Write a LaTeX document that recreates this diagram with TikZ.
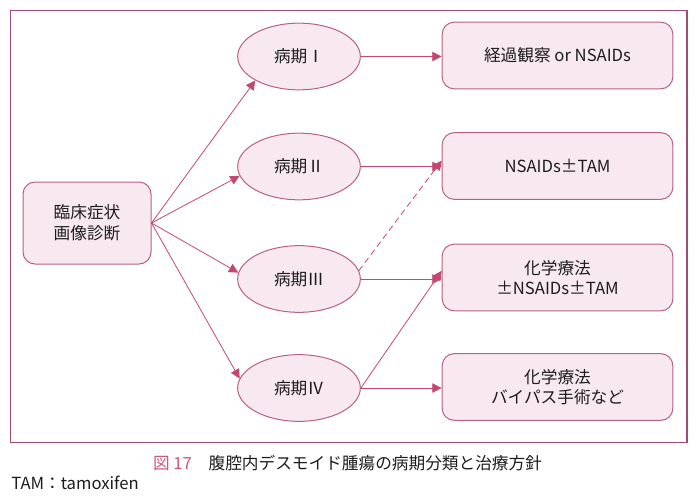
\documentclass[tikz,border=0pt]{standalone}
\usepackage{fontspec}
\setmainfont{Noto Sans CJK JP}
\usepackage{xcolor}
\usepackage{tikz}
\usetikzlibrary{arrows.meta,shapes.geometric}

\definecolor{framecol}{RGB}{160,75,120}
\definecolor{nodeline}{RGB}{185,95,135}
\definecolor{nodefill}{RGB}{248,233,240}
\definecolor{arrowcol}{RGB}{195,70,115}
\definecolor{textcol}{RGB}{28,28,28}
\definecolor{capcol}{RGB}{205,85,130}

\tikzset{
  stage/.style={ellipse,draw=nodeline,fill=nodefill,line width=0.75pt,minimum width=92pt,minimum height=50pt,inner sep=0pt,text=textcol,font=\fontsize{12.5}{15.5}\selectfont},
  therapy/.style={rectangle,rounded corners=9pt,draw=nodeline,fill=nodefill,line width=0.75pt,minimum width=173pt,minimum height=50pt,inner sep=0pt,align=center,text=textcol,font=\fontsize{12.5}{15.5}\selectfont},
  link/.style={draw=arrowcol,line width=0.6pt,-{Triangle[length=7pt,width=7pt]}},
}

\begin{document}
\begin{tikzpicture}[x=0.75pt,y=0.75pt,yscale=-1,xscale=1]
\path[use as bounding box] (0,0) rectangle (696,500);

%Frame
\draw [color=framecol,line width=0.9pt] (10.5,10.5) rectangle (687,442.5) ;

%Rounded Rect: diagnosis
\node [therapy,minimum width=96pt,minimum height=61.5pt] (diag) at (87,223) {臨床症状\\画像診断};

%Shape: Ellipse (stages)
\node [stage] (st1) at (299,56.5) {病期Ⅰ};
\node [stage] (st2) at (299,166.5) {病期Ⅱ};
\node [stage] (st3) at (299,279) {病期Ⅲ};
\node [stage] (st4) at (299,388) {病期Ⅳ};

%Rounded Rect: treatment
\node [therapy] (res1) at (557.5,55.5) {経過観察 or NSAIDs};
\node [therapy] (res2) at (557.5,166) {NSAIDs±TAM};
\node [therapy] (res3) at (557.5,277.5) {化学療法\\±NSAIDs±TAM};
\node [therapy] (res4) at (557.5,387) {化学療法\\バイパス手術など};

%Straight Lines: diagnosis to stages
\draw [link] (diag.east) -- (st1.south west) ;
\draw [link] (diag.east) -- (st2.189) ;
\draw [link] (diag.east) -- (st3.174) ;
\draw [link] (diag.east) -- (st4.171) ;

%Straight Lines: stages to treatment
\draw [link] (st1.east) -- (st1.east -| res1.west) ;
\draw [link] (st2.east) -- (st2.east -| res2.west) ;
\draw [link] (st3.east) -- (st3.east -| res3.west) ;
\draw [link] (st4.east) -- (st4.east -| res4.west) ;
\draw [link,dash pattern=on 4.5pt off 3pt] (st3.8) -- ([yshift=-4pt]res2.west) ;
\draw [link] (st4.east) -- ([yshift=-5pt]res3.west) ;

% Text Node
\node [font=\fontsize{12.5}{14}\selectfont,text=textcol,inner sep=0pt] (caption) at (347.5,463) {{\color{capcol}図 17}\hspace{1em}腹腔内デスモイド腫瘍の病期分類と治療方針};
% Text Node
\node [anchor=west,font=\fontsize{12.5}{14}\selectfont,text=textcol,inner sep=0pt] (note) at (11,483) {TAM：tamoxifen};
\end{tikzpicture}
\end{document}
